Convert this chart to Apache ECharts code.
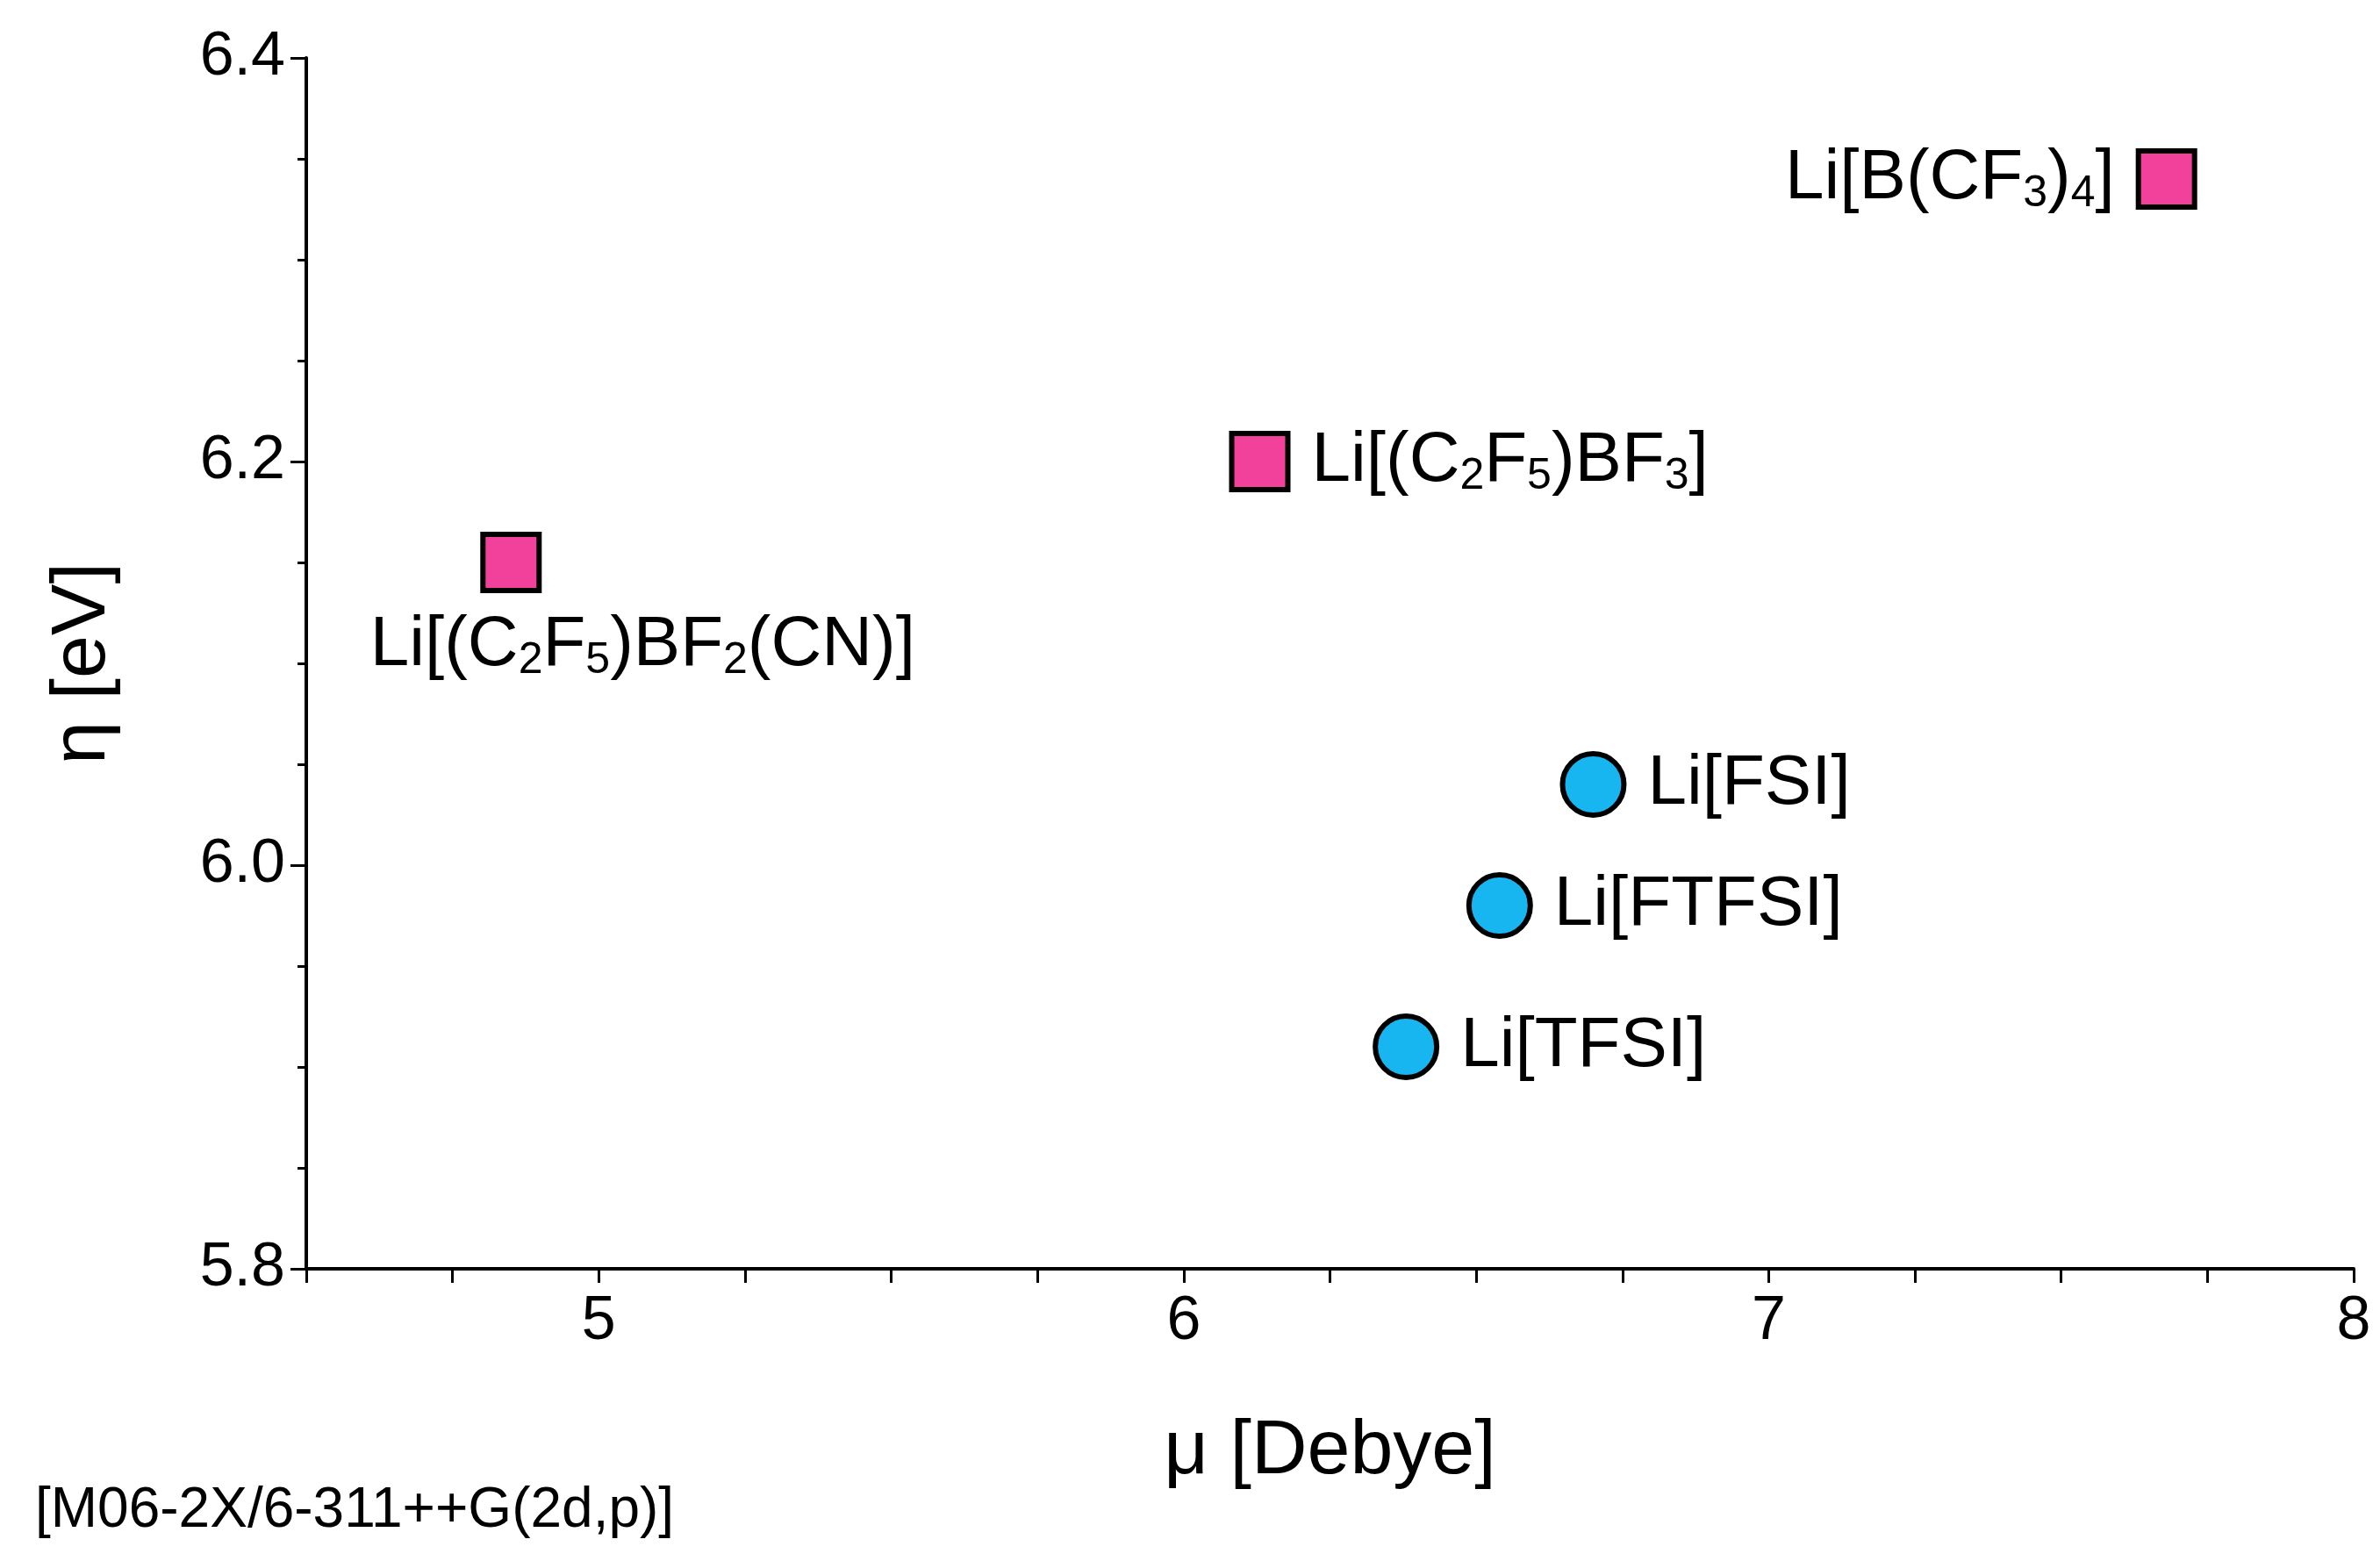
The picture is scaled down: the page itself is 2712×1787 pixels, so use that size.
<!DOCTYPE html>
<html lang="en">
<head>
    <meta charset="UTF-8">
    <title>eta vs mu</title>
    <script src="https://cdn.jsdelivr.net/npm/echarts@6/dist/echarts.min.js"></script>
    <style>
        body, html { background: #fff; width: 100%; height: 100%; margin: 0; }
    </style>
</head>
<body>
    <div id="chart" style="width: 2712px; height: 1787px;"></div>
    <script>
        // borate salts (squares)
        var borateNames = ['Li[B(CF{s|3}){s|4}]', 'Li[(C{s|2}F{s|5})BF{s|3}]', 'Li[(C{s|2}F{s|5})BF{s|2}(CN)]'];
        var borateMu = [7.68, 6.13, 4.85];
        var borateEta = [6.34, 6.20, 6.15];
        // imide salts (circles)
        var imideNames = ['Li[FSI]', 'Li[FTFSI]', 'Li[TFSI]'];
        var imideMu = [6.70, 6.54, 6.38];
        var imideEta = [6.04, 5.98, 5.91];

        var font = 'Liberation Sans, Arial, sans-serif';
        var rich = {
            s: { fontSize: 50, fontFamily: font, color: '#000', padding: [34, 0, 0, 0] }
        };
        var labelPos = ['left', 'right', 'bottom'];

        var borateData = borateMu.map(function (m, i) {
            var lab = { show: true, position: labelPos[i], distance: 24 };
            if (i === 2) { lab.offset = [150, 0]; lab.distance = 18; }
            return { value: [m, borateEta[i]], name: borateNames[i], label: lab };
        });
        var imideData = imideMu.map(function (m, i) {
            return { value: [m, imideEta[i]], name: imideNames[i] };
        });

        var labelBase = {
            show: true, position: 'right', distance: 24,
            formatter: function (p) { return p.name; },
            fontSize: 80, fontFamily: font, color: '#000', rich: rich
        };

        var chart = echarts.init(document.getElementById('chart'));
        chart.setOption({
            animation: false,
            grid: { left: 349, right: 30, top: 66, bottom: 341 },
            xAxis: {
                type: 'value', min: 4.5, max: 8, interval: 0.5,
                name: 'μ [Debye]', nameLocation: 'middle', nameGap: 165,
                nameTextStyle: { fontSize: 88, fontFamily: font, color: '#000' },
                axisLine: { lineStyle: { color: '#000', width: 4 } },
                axisTick: { length: 16, lineStyle: { color: '#000', width: 3 } },
                minorTick: { show: true, splitNumber: 2, length: 16, lineStyle: { color: '#000', width: 3 } },
                axisLabel: {
                    fontSize: 70, fontFamily: font, color: '#000', margin: 26,
                    formatter: function (v) { return Number.isInteger(v) ? String(v) : ''; }
                },
                splitLine: { show: false }
            },
            yAxis: {
                type: 'value', min: 5.8, max: 6.4, interval: 0.2,
                name: 'η [eV]', nameLocation: 'middle', nameGap: 210,
                nameTextStyle: { fontSize: 88, fontFamily: font, color: '#000' },
                axisLine: { show: true, lineStyle: { color: '#000', width: 4 } },
                axisTick: { show: true, length: 18, lineStyle: { color: '#000', width: 3 } },
                minorTick: { show: true, splitNumber: 4, length: 10, lineStyle: { color: '#000', width: 3 } },
                axisLabel: {
                    fontSize: 70, fontFamily: font, color: '#000', margin: 24,
                    formatter: function (v) { return v.toFixed(1); }
                },
                splitLine: { show: false }
            },
            series: [
                {
                    type: 'scatter', symbol: 'rect', symbolSize: 64,
                    itemStyle: { color: '#f2419b', borderColor: '#000', borderWidth: 6, opacity: 1 },
                    label: labelBase,
                    data: borateData
                },
                {
                    type: 'scatter', symbol: 'circle', symbolSize: 70,
                    itemStyle: { color: '#18b6f0', borderColor: '#000', borderWidth: 6, opacity: 1 },
                    label: labelBase,
                    data: imideData
                }
            ],
            graphic: [{
                type: 'text', left: 40, top: 1690,
                style: { text: '[M06-2X/6-311++G(2d,p)]', fontSize: 64, fontFamily: font, fill: '#000' }
            }]
        });
    </script>
</body>
</html>
